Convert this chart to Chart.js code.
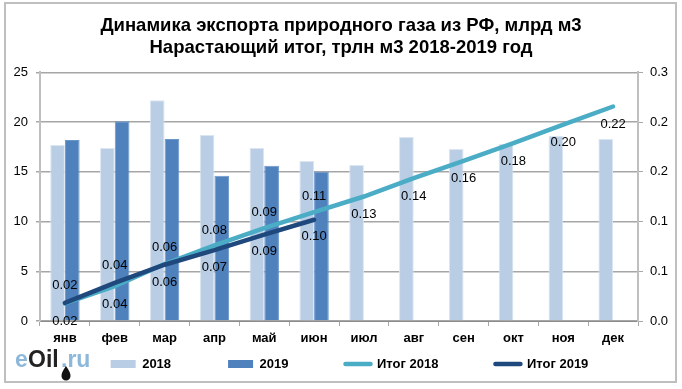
<!DOCTYPE html>
<html>
<head>
<meta charset="utf-8">
<script src="https://cdn.jsdelivr.net/npm/chart.js@4/dist/chart.umd.min.js"></script>
<style>
html, body { margin: 0; padding: 0; background: #fff; overflow: hidden; }
#wrap { position: relative; width: 682px; height: 389px; }
#frame { position: absolute; left: 4px; top: 2px; width: 669px; height: 377px; border: 2px solid #bfbfbf; }
#chart { position: absolute; left: 0; top: 0; }
</style>
</head>
<body>
<div id="wrap">
    <div id="frame"></div>
    <canvas id="chart" width="682" height="389"></canvas>
</div>
<script>
const months = ['янв', 'фев', 'мар', 'апр', 'май', 'июн', 'июл', 'авг', 'сен', 'окт', 'ноя', 'дек'];
const export2018 = [17.7, 17.4, 22.2, 18.7, 17.4, 16.1, 15.7, 18.5, 17.3, 17.8, 18.6, 18.3];
const export2019 = [18.2, 20.1, 18.3, 14.6, 15.6, 15.0];
const total2018 = [0.0177, 0.0351, 0.0573, 0.076, 0.0934, 0.1095, 0.1252, 0.1437, 0.161, 0.1788, 0.1974, 0.2157];
const total2019 = [0.0182, 0.0383, 0.0566, 0.0712, 0.0868, 0.1018];
const rightTicks = ['0.0', '0.1', '0.1', '0.2', '0.2', '0.3'];
const titleLines = ['Динамика экспорта природного газа из РФ, млрд м3', 'Нарастающий итог, трлн м3 2018-2019 год'];

const font = 'Liberation Sans, Arial, sans-serif';

// 2018 labels go above only in apr-jun, 2019 only in jan-mar
const labelOffset = {
    2: i => (i >= 3 && i <= 5) ? -15.5 : 18,
    3: i => i <= 2 ? -17.5 : 17
};

const lineLabels = {
    id: 'lineLabels',
    afterDatasetsDraw(chart) {
        const ctx = chart.ctx;
        ctx.save();
        ctx.font = '13px ' + font;
        ctx.fillStyle = '#000';
        ctx.textAlign = 'center';
        ctx.textBaseline = 'middle';
        [2, 3].forEach(di => {
            chart.getDatasetMeta(di).data.forEach((pt, i) => {
                const val = chart.data.datasets[di].data[i];
                ctx.fillText(val.toFixed(2), pt.x, pt.y + labelOffset[di](i));
            });
        });
        ctx.restore();
    }
};

// logo in the bottom left corner
const logo = {
    id: 'logo',
    afterDraw(chart) {
        const ctx = chart.ctx;
        ctx.save();
        ctx.font = 'bold 23px ' + font;
        ctx.textBaseline = 'alphabetic';
        ctx.textAlign = 'left';
        ctx.fillStyle = '#8db8da';
        ctx.fillText('e', 15, 367);
        ctx.fillStyle = '#222';
        ctx.fillText('Oil', 28, 367);
        ctx.fillStyle = '#8db8da';
        ctx.fillText('.ru', 61, 367);
        // oil drop
        ctx.fillStyle = '#111';
        ctx.beginPath();
        ctx.moveTo(66, 366);
        ctx.quadraticCurveTo(61, 373, 61.5, 376);
        ctx.arc(66, 376, 4.5, Math.PI, 0, true);
        ctx.quadraticCurveTo(71, 373, 66, 366);
        ctx.fill();
        ctx.restore();
    }
};

// legend sits right of centre and lower than its padding would put it
const moveLegend = {
    id: 'moveLegend',
    afterLayout(chart) {
        chart.legend.left += 8.5;
        chart.legend.right += 8.5;
        chart.legend.top -= 53.5;
        chart.legend.bottom -= 53.5;
    }
};

new Chart(document.getElementById('chart'), {
    data: {
        labels: months,
        datasets: [
            { type: 'bar', label: '2018', data: export2018, backgroundColor: '#b9cde5', borderColor: '#dce6f2', borderWidth: 1, yAxisID: 'y', order: 3 },
            { type: 'bar', label: '2019', data: export2019, backgroundColor: '#4f81bd', borderColor: '#6b96ca', borderWidth: 1, yAxisID: 'y', order: 3 },
            { type: 'line', label: 'Итог 2018', data: total2018, borderColor: '#4bacc6', backgroundColor: '#4bacc6', borderWidth: 4.5, borderCapStyle: 'round', pointRadius: 0, yAxisID: 'y1', order: 2 },
            { type: 'line', label: 'Итог 2019', data: total2019, borderColor: '#1f497d', backgroundColor: '#1f497d', borderWidth: 4.5, borderCapStyle: 'round', pointRadius: 0, yAxisID: 'y1', order: 1 }
        ]
    },
    options: {
        responsive: false,
        animation: false,
        layout: { padding: { left: 6, right: 6, top: 15, bottom: -45 } },
        datasets: { bar: { categoryPercentage: 0.59, barPercentage: 1 } },
        plugins: {
            title: {
                display: true,
                text: titleLines,
                color: '#000',
                font: { family: font, size: 18.5, weight: 'bold', lineHeight: 1.2 },
                padding: { top: 0, bottom: 13 }
            },
            legend: {
                position: 'bottom',
                labels: {
                    usePointStyle: true,
                    pointStyleWidth: 25,
                    boxHeight: 8,
                    padding: 57,
                    color: '#000',
                    font: { family: font, size: 13, weight: 'bold' },
                    generateLabels(chart) {
                        return chart.data.datasets.map((ds, i) => {
                            const isBar = ds.type === 'bar';
                            return {
                                text: ds.label,
                                datasetIndex: i,
                                fontColor: '#000',
                                fillStyle: ds.backgroundColor,
                                strokeStyle: isBar ? ds.backgroundColor : ds.borderColor,
                                lineWidth: isBar ? 0 : 4.5,
                                lineCap: 'round',
                                pointStyle: isBar ? 'rect' : 'line'
                            };
                        });
                    }
                }
            },
            tooltip: { enabled: false }
        },
        scales: {
            x: {
                grid: { offset: true, drawOnChartArea: false, drawTicks: true, tickLength: 5, color: '#a6a6a6' },
                border: { color: '#8c8c8c', width: 1 },
                ticks: { color: '#000', font: { family: font, size: 13, weight: 'bold' }, maxRotation: 0, autoSkip: false, padding: 5 },
                afterFit(s) { s.height = 33; }
            },
            y: {
                position: 'left',
                min: 0,
                max: 25,
                grid: { color: '#a6a6a6', lineWidth: 1.5, tickLength: 4, drawTicks: true },
                border: { color: '#bfbfbf', width: 2 },
                ticks: { stepSize: 5, color: '#000', font: { family: font, size: 13 }, padding: 8 },
                afterFit(s) { s.width = 34; }
            },
            y1: {
                position: 'right',
                min: 0,
                max: 0.25,
                grid: { drawOnChartArea: false, drawTicks: true, tickLength: 5, color: '#a6a6a6' },
                border: { color: '#bfbfbf', width: 2 },
                ticks: {
                    stepSize: 0.05,
                    color: '#000',
                    font: { family: font, size: 13 },
                    padding: 7,
                    callback: (v, i) => rightTicks[i]
                },
                afterFit(s) { s.width = 38; }
            }
        }
    },
    plugins: [lineLabels, logo, moveLegend]
});
</script>
</body>
</html>
